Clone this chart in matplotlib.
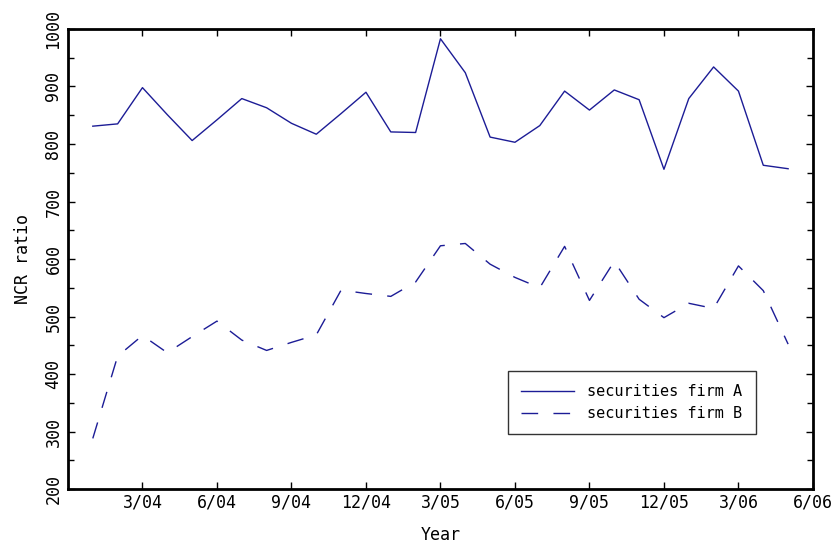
import numpy as np
import matplotlib
matplotlib.use("Agg")
import matplotlib.pyplot as plt
from matplotlib.ticker import MultipleLocator

# monthly NCR ratio, 1/04 .. 5/06
firm_a = [831, 835, 898, 851, 806, 842, 879, 863, 836, 817, 853, 890, 821, 820,
          983, 924, 812, 803, 832, 892, 859, 894, 877, 756, 879, 934, 892, 763, 757]
firm_b = [288, 431, 467, 437, 465, 492, 459, 441, 455, 468, 546, 540, 535, 560,
          623, 627, 591, 568, 550, 622, 528, 596, 530, 498, 523, 514, 588, 545, 452]
tick_labels = ["3/04", "6/04", "9/04", "12/04", "3/05", "6/05", "9/05", "12/05", "3/06", "6/06"]

months = np.arange(1, len(firm_a) + 1)
tick_pos = np.arange(3, 3 * len(tick_labels) + 1, 3)

line_color = "#1c1c96"
plt.rcParams["font.family"] = "DejaVu Sans Mono"

fig = plt.figure(figsize=(8.38, 5.47), dpi=100)
ax = fig.add_axes([0.0811, 0.106, 0.889, 0.841])

ax.plot(months, firm_a, color=line_color, lw=1.0, label="securities firm A")
ax.plot(months, firm_b, color=line_color, lw=1.0, dashes=(12, 11), label="securities firm B")

ax.set_xlim(0, 30)
ax.set_ylim(200, 1000)
ax.set_xticks(tick_pos)
ax.set_xticklabels(tick_labels)
ax.yaxis.set_major_locator(MultipleLocator(100))
ax.yaxis.set_minor_locator(MultipleLocator(50))

ax.tick_params(axis="x", which="major", direction="in", top=True, length=5, width=1, pad=3, labelsize=12)
ax.tick_params(axis="y", which="major", direction="in", right=True, length=5, width=1, pad=4, labelsize=12)
ax.tick_params(axis="y", which="minor", direction="in", right=True, length=4, width=1)
for lbl in ax.get_yticklabels():
    lbl.set_rotation(90)
    lbl.set_va("center")

for sp in ax.spines.values():
    sp.set_linewidth(2)

ax.set_xlabel("Year", fontsize=12, labelpad=11)
ax.set_ylabel("NCR ratio", fontsize=12, labelpad=9)

leg = ax.legend(loc="lower left", bbox_to_anchor=(0.5906, 0.1196, 0.333, 0.139),
                mode="expand", borderaxespad=0, fontsize=11, frameon=True,
                fancybox=False, edgecolor="black", handlelength=3.5,
                handletextpad=0.8, borderpad=0.85, labelspacing=0.45)
leg.get_frame().set_linewidth(1)

fig.savefig("out.png", dpi=100)
